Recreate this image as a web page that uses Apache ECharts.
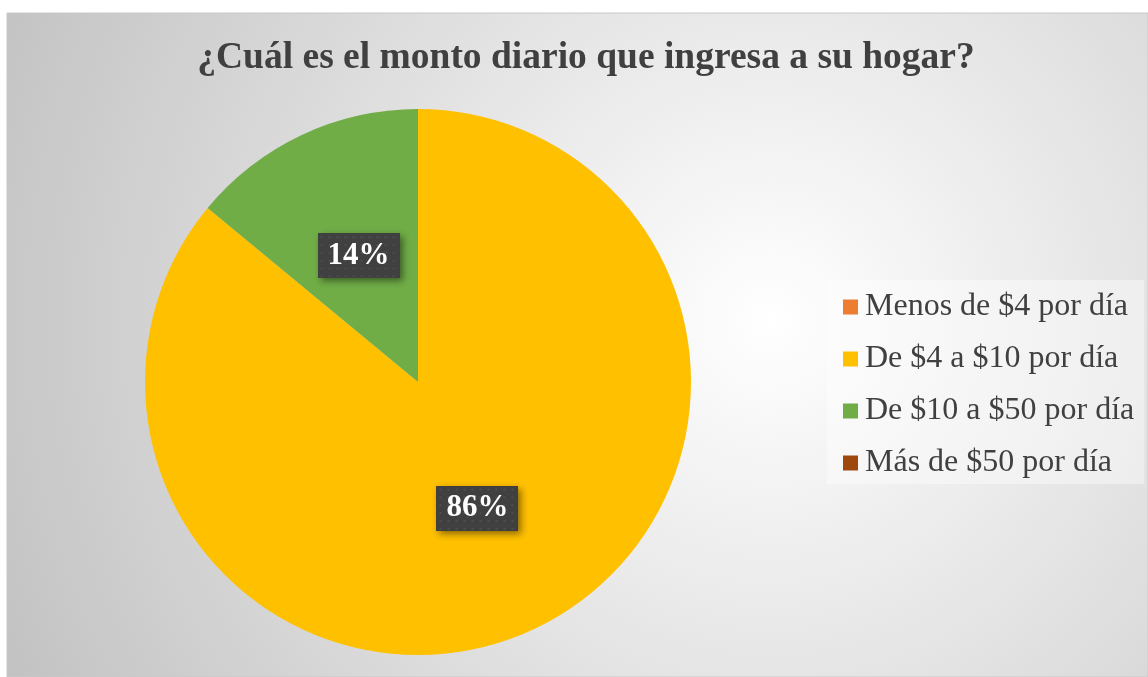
<!DOCTYPE html>
<html>
<head>
<meta charset="utf-8">
<script src="https://cdn.jsdelivr.net/npm/echarts@6/dist/echarts.min.js"></script>
<style>
html,body{margin:0;padding:0;background:#fff;}
#chart{width:1148px;height:677px;}
</style>
</head>
<body>
<div id="chart"></div>
<script>
var titleText = '¿Cuál es el monto diario que ingresa a su hogar?';
var categories = ['Menos de $4 por día', 'De $4 a $10 por día', 'De $10 a $50 por día', 'Más de $50 por día'];
var values = [0, 86, 14, 0];
var colors = ['#ED7D31', '#FFC000', '#70AD47', '#9E480E'];

// dotted dark texture for data label boxes
var tex = document.createElement('canvas');
tex.width = 82; tex.height = 46;
var tc = tex.getContext('2d');
tc.fillStyle = '#404040'; tc.fillRect(0, 0, 82, 46);
tc.fillStyle = '#4f4f4f';
for (var yy = 3; yy < 46; yy += 8) {
  for (var xx = 3; xx < 82; xx += 8) { tc.fillRect(xx, yy, 2, 2); }
}
for (var yy2 = 7; yy2 < 46; yy2 += 8) {
  for (var xx2 = 7; xx2 < 82; xx2 += 8) { tc.fillStyle = '#474747'; tc.fillRect(xx2, yy2, 1, 1); }
}

var chart = echarts.init(document.getElementById('chart'), null, {renderer: 'canvas'});
var data = categories.map(function (c, i) {
  var d = {name: c, value: values[i], itemStyle: {color: colors[i]}};
  if (values[i] === 0) d.label = {show: false};
  return d;
});
var option = {
  animation: false,
  graphic: [{
    type: 'rect', z: -10, silent: true,
    shape: {x: 7, y: 13, width: 1141, height: 664},
    style: {
      fill: {type: 'radial', x: 770, y: 320, r: 830, global: true,
        colorStops: [{offset: 0, color: '#ffffff'}, {offset: 0.45, color: '#e4e4e4'}, {offset: 1, color: '#c3c3c3'}]},
      stroke: '#c8c8c8', lineWidth: 1
    }
  }],
  title: {
    text: titleText, left: 581, textAlign: 'center', top: 34,
    textStyle: {fontFamily: 'Liberation Serif', fontWeight: 'bold', fontSize: 37.5, color: '#404040'}
  },
  legend: {
    orient: 'vertical', left: 827, top: 280,
    width: 318,
    backgroundColor: 'rgba(255,255,255,0.4)',
    padding: [11, 10, 5, 16],
    itemWidth: 15, itemHeight: 15, itemGap: 20, icon: 'rect',
    textStyle: {fontFamily: 'Liberation Serif', fontSize: 32, color: '#404040', padding: [0, 0, 0, 2]},
    data: categories
  },
  series: [{
    type: 'pie', center: [418, 382], radius: 273,
    startAngle: 90, clockwise: true,
    stillShowZeroSum: true,
    label: {
      show: true, position: 'inside',
      formatter: '{d}%',
      fontFamily: 'Liberation Serif', fontWeight: 'bold', fontSize: 31, color: '#ffffff',
      backgroundColor: {image: tex}, padding: [7, 10, 7, 10],
      shadowColor: 'rgba(0,0,0,0.45)', shadowBlur: 7, shadowOffsetX: 3, shadowOffsetY: 3
    },
    labelLine: {show: false},
    emphasis: {disabled: true},
    data: data
  }]
};
chart.setOption(option);
</script>
</body>
</html>
